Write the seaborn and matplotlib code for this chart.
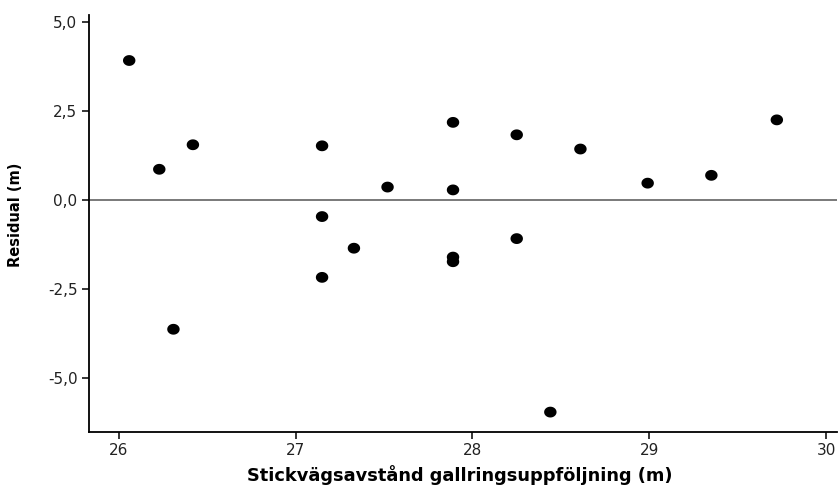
import numpy as np
import pandas as pd
import matplotlib
matplotlib.use("Agg")
import matplotlib.pyplot as plt
from matplotlib.path import Path
from matplotlib.ticker import FixedLocator, FixedFormatter
import seaborn as sns

# Observed spacing vs. model residual
spacing = [26.06, 26.23, 26.42, 26.31, 27.15, 27.15, 27.15, 27.33, 27.52,
           27.89, 27.89, 27.89, 27.89, 28.25, 28.25, 28.61, 28.44, 28.99,
           29.35, 29.72]
residual = [3.93, 0.87, 1.56, -3.63, 1.53, -0.46, -2.17, -1.35, 0.37,
            2.19, 0.29, -1.60, -1.73, 1.84, -1.08, 1.44, -5.96, 0.48,
            0.70, 2.26]

x_ticks = [26, 27, 28, 29, 30]
x_tick_labels = ["26", "27", "28", "29", "30"]
y_ticks = [5.0, 2.5, 0.0, -2.5, -5.0]
y_tick_labels = ["5,0", "2,5", "0,0", "-2,5", "-5,0"]

x_label = "Stickvägsavstånd gallringsuppföljning (m)"
y_label = "Residual (m)"

df = pd.DataFrame({"x": spacing, "y": residual})

sns.set_theme(style="white")
plt.rcParams["font.family"] = ["DejaVu Sans"]

W, H = 838, 486
L, R, T, B = 88.5, 837, 15, 432
fig = plt.figure(figsize=(W / 100, H / 100), dpi=100)
ax = fig.add_axes([L / W, 1 - B / H, (R - L) / W, (B - T) / H])

# slightly wide elliptical dot
t = np.linspace(0, 2 * np.pi, 60)
ellipse = Path(np.column_stack([np.cos(t), np.sin(t) / 1.15]), closed=True)

ax.axhline(0, color="#555555", lw=1.1, zorder=1)
sns.scatterplot(data=df, x="x", y="y", ax=ax, marker=ellipse, s=80,
                color="black", edgecolor="none", linewidth=0, zorder=3)

ax.set_xlim(25.83, 30.06)
ax.set_ylim(-6.52, 5.21)
ax.xaxis.set_major_locator(FixedLocator(x_ticks))
ax.xaxis.set_major_formatter(FixedFormatter(x_tick_labels))
ax.yaxis.set_major_locator(FixedLocator(y_ticks))
ax.yaxis.set_major_formatter(FixedFormatter(y_tick_labels))

for side in ("top", "right"):
    ax.spines[side].set_visible(False)
for side in ("left", "bottom"):
    ax.spines[side].set_color("black")
    ax.spines[side].set_linewidth(1.3)

ax.tick_params(axis="both", which="major", direction="out", length=5,
               width=1.1, color="black", labelsize=11, labelcolor="#222222",
               bottom=True, left=True, pad=3)

ax.set_xlabel(x_label, fontsize=12.8, fontweight="bold", color="black")
ax.set_ylabel(y_label, fontsize=10.5, fontweight="bold", color="black")
ax.xaxis.set_label_coords((460 - L) / (R - L), (B - 465) / (B - T))
ax.yaxis.set_label_coords((23 - L) / (R - L), (B - 215) / (B - T))

fig.savefig("out.png", dpi=100)
